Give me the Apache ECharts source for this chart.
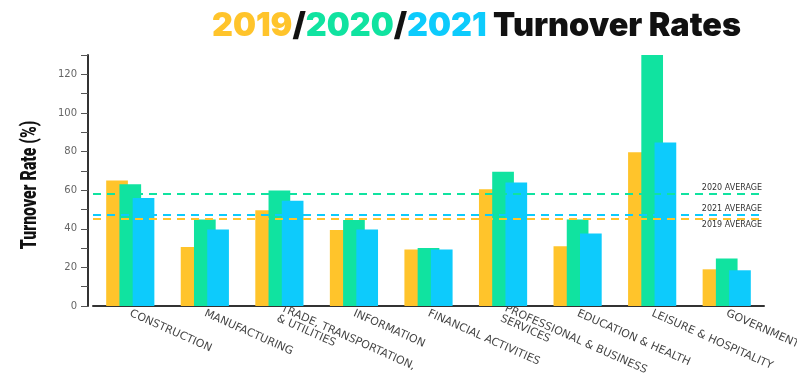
<!DOCTYPE html>
<html><head><meta charset="utf-8">
<script src="https://cdn.jsdelivr.net/npm/echarts@6/dist/echarts.min.js"></script>
<style>html,body{margin:0;padding:0;background:#fff}#c{width:797px;height:378px}</style>
</head><body><div id="c"></div>
<script>
const categories = ['CONSTRUCTION','MANUFACTURING','TRADE, TRANSPORTATION,\n& UTILITIES','INFORMATION','FINANCIAL ACTIVITIES','PROFESSIONAL & BUSINESS\nSERVICES','EDUCATION & HEALTH','LEISURE & HOSPITALITY','GOVERNMENT'];
const rates2019 = [65, 30.6, 49.6, 39.3, 29.3, 60.5, 31, 79.6, 19];
const rates2020 = [63, 44.8, 59.8, 44.5, 30.1, 69.5, 44.8, 130, 24.6];
const rates2021 = [56, 39.6, 54.5, 39.6, 29.3, 64, 37.5, 84.7, 18.5];
const averages = {y2019: 45, y2020: 58, y2021: 47.4};
const colors = ['#FFC42B', '#10E3A0', '#0DCBFC'];
const yAxisTitle = 'Turnover Rate (%)';

const chart = echarts.init(document.getElementById('c'), null, {renderer:'canvas'});
function avgLine(val, label, color, pos){
  return {
    silent: true, symbol: 'none',
    lineStyle: {color: color, type: [8,6], width: 2},
    label: {show: true, position: pos, formatter: label, color: '#333', fontSize: 8, fontFamily: 'DejaVu Sans', distance: 2},
    data: [{yAxis: val}]
  };
}
const tf = 'Inter';
const ts = 32.4;
chart.setOption({
  animation: false,
  title: {
    left: 207, top: 5,
    text: '{a|2019}{s|/}{b|2020}{s|/}{c|2021}{t| Turnover Rates}',
    textStyle: {
      rich: {
        a: {color: colors[0], fontSize: ts, fontWeight: 900, fontFamily: tf},
        b: {color: colors[1], fontSize: ts, fontWeight: 900, fontFamily: tf},
        c: {color: colors[2], fontSize: ts, fontWeight: 900, fontFamily: tf},
        s: {color: '#111', fontSize: ts, fontWeight: 900, fontFamily: tf},
        t: {color: '#111', fontSize: ts, fontWeight: 900, fontFamily: tf}
      }
    }
  },
  graphic: [{
    type: 'text', x: 30, y: 185, rotation: Math.PI / 2, scaleX: 0.72,
    style: {text: yAxisTitle, font: '900 22px Roboto', fill: '#111', align: 'center', verticalAlign: 'middle'}
  }],
  grid: {left: 93, right: 33, top: 55, bottom: 72, outerBoundsMode: 'none', containLabel: false},
  xAxis: {
    type: 'category', data: categories,
    axisLine: {lineStyle: {color: '#333', width: 2}},
    axisTick: {show: false},
    axisLabel: {rotate: -24, interval: 0, fontSize: 11, color: '#444', fontFamily: 'DejaVu Sans', margin: 7, lineHeight: 11}
  },
  yAxis: {
    type: 'value', min: 0, max: 130, interval: 10, offset: 5,
    axisLine: {show: true, lineStyle: {color: '#333', width: 2}},
    axisTick: {show: true, length: 7, lineStyle: {color: '#555'}},
    axisLabel: {color: '#666', fontSize: 10, fontFamily: 'DejaVu Sans', margin: 11,
      formatter: v => (v % 20 === 0 ? String(v) : '')},
    splitLine: {show: false}
  },
  series: [
    {name: '2019', type: 'bar', data: rates2019, itemStyle: {color: colors[0]}, barWidth: 21.7, barGap: '-39%',
      markLine: avgLine(averages.y2019, '2019 AVERAGE', colors[0], 'insideEndBottom')},
    {name: '2020', type: 'bar', data: rates2020, itemStyle: {color: colors[1]}, barWidth: 21.7, barGap: '-39%',
      markLine: avgLine(averages.y2020, '2020 AVERAGE', colors[1], 'insideEndTop')},
    {name: '2021', type: 'bar', data: rates2021, itemStyle: {color: colors[2]}, barWidth: 21.7, barGap: '-39%',
      markLine: avgLine(averages.y2021, '2021 AVERAGE', colors[2], 'insideEndTop')}
  ]
});
</script></body></html>
